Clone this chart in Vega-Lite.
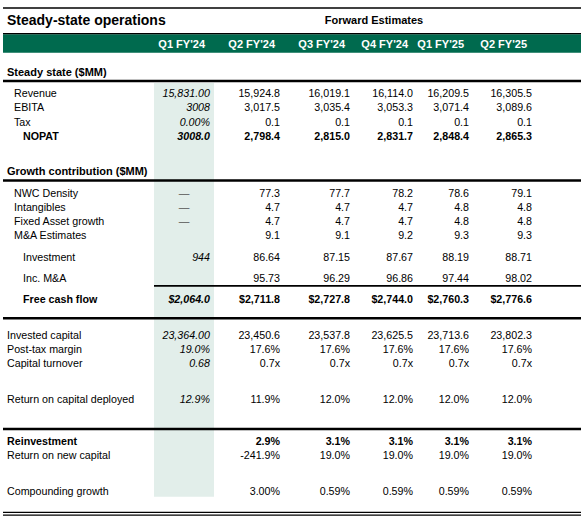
{
  "$schema": "https://vega.github.io/schema/vega-lite/v6.json",
  "width": 581,
  "height": 520,
  "padding": 0,
  "autosize": "none",
  "background": "white",
  "config": {"view": {"stroke": null}, "text": {"font": "Liberation Sans", "fontSize": 10.7, "color": "#000000", "baseline": "middle", "dy": 1}},
  "datasets": {
    "titles": [
      {"text": "Steady-state operations", "role": "title"},
      {"text": "Forward Estimates", "role": "group"}
    ],
    "columns": [
      {"col": "Q1 FY'24", "period": "actual"},
      {"col": "Q2 FY'24", "period": "estimate"},
      {"col": "Q3 FY'24", "period": "estimate"},
      {"col": "Q4 FY'24", "period": "estimate"},
      {"col": "Q1 FY'25", "period": "estimate"},
      {"col": "Q2 FY'25", "period": "estimate"}
    ],
    "rules": [
      {"line": "top", "at": "top"},
      {"line": "header", "at": "header"},
      {"line": "section", "at": "rule:steady"},
      {"line": "section", "at": "rule:growth"},
      {"line": "subtotal", "at": "rule:subtotal"},
      {"line": "total", "at": "rule:fcf"},
      {"line": "section", "at": "rule:reinvest"},
      {"line": "bottom", "at": "bottom"}
    ],
    "rows": [
      {"row": "Steady state ($MM)", "kind": "section"},
      {"row": "Revenue", "kind": "item"},
      {"row": "EBITA", "kind": "item"},
      {"row": "Tax", "kind": "item"},
      {"row": "NOPAT", "kind": "total"},
      {"row": "Growth contribution ($MM)", "kind": "section"},
      {"row": "NWC Density", "kind": "item"},
      {"row": "Intangibles", "kind": "item"},
      {"row": "Fixed Asset growth", "kind": "item"},
      {"row": "M&A Estimates", "kind": "item"},
      {"row": "Investment", "kind": "subtotal"},
      {"row": "Inc. M&A", "kind": "subtotal"},
      {"row": "Free cash flow", "kind": "total"},
      {"row": "Invested capital", "kind": "metric"},
      {"row": "Post-tax margin", "kind": "metric"},
      {"row": "Capital turnover", "kind": "metric"},
      {"row": "Return on capital deployed", "kind": "metric"},
      {"row": "Reinvestment", "kind": "keyMetric"},
      {"row": "Return on new capital", "kind": "metric"},
      {"row": "Compounding growth", "kind": "metric"}
    ],
    "cells": [
      {"row": "Revenue", "col": "Q1 FY'24", "value": "15,831.00"},
      {"row": "Revenue", "col": "Q2 FY'24", "value": "15,924.8"},
      {"row": "Revenue", "col": "Q3 FY'24", "value": "16,019.1"},
      {"row": "Revenue", "col": "Q4 FY'24", "value": "16,114.0"},
      {"row": "Revenue", "col": "Q1 FY'25", "value": "16,209.5"},
      {"row": "Revenue", "col": "Q2 FY'25", "value": "16,305.5"},
      {"row": "EBITA", "col": "Q1 FY'24", "value": "3008"},
      {"row": "EBITA", "col": "Q2 FY'24", "value": "3,017.5"},
      {"row": "EBITA", "col": "Q3 FY'24", "value": "3,035.4"},
      {"row": "EBITA", "col": "Q4 FY'24", "value": "3,053.3"},
      {"row": "EBITA", "col": "Q1 FY'25", "value": "3,071.4"},
      {"row": "EBITA", "col": "Q2 FY'25", "value": "3,089.6"},
      {"row": "Tax", "col": "Q1 FY'24", "value": "0.00%"},
      {"row": "Tax", "col": "Q2 FY'24", "value": "0.1"},
      {"row": "Tax", "col": "Q3 FY'24", "value": "0.1"},
      {"row": "Tax", "col": "Q4 FY'24", "value": "0.1"},
      {"row": "Tax", "col": "Q1 FY'25", "value": "0.1"},
      {"row": "Tax", "col": "Q2 FY'25", "value": "0.1"},
      {"row": "NOPAT", "col": "Q1 FY'24", "value": "3008.0"},
      {"row": "NOPAT", "col": "Q2 FY'24", "value": "2,798.4"},
      {"row": "NOPAT", "col": "Q3 FY'24", "value": "2,815.0"},
      {"row": "NOPAT", "col": "Q4 FY'24", "value": "2,831.7"},
      {"row": "NOPAT", "col": "Q1 FY'25", "value": "2,848.4"},
      {"row": "NOPAT", "col": "Q2 FY'25", "value": "2,865.3"},
      {"row": "NWC Density", "col": "Q1 FY'24", "value": "—"},
      {"row": "NWC Density", "col": "Q2 FY'24", "value": "77.3"},
      {"row": "NWC Density", "col": "Q3 FY'24", "value": "77.7"},
      {"row": "NWC Density", "col": "Q4 FY'24", "value": "78.2"},
      {"row": "NWC Density", "col": "Q1 FY'25", "value": "78.6"},
      {"row": "NWC Density", "col": "Q2 FY'25", "value": "79.1"},
      {"row": "Intangibles", "col": "Q1 FY'24", "value": "—"},
      {"row": "Intangibles", "col": "Q2 FY'24", "value": "4.7"},
      {"row": "Intangibles", "col": "Q3 FY'24", "value": "4.7"},
      {"row": "Intangibles", "col": "Q4 FY'24", "value": "4.7"},
      {"row": "Intangibles", "col": "Q1 FY'25", "value": "4.8"},
      {"row": "Intangibles", "col": "Q2 FY'25", "value": "4.8"},
      {"row": "Fixed Asset growth", "col": "Q1 FY'24", "value": "—"},
      {"row": "Fixed Asset growth", "col": "Q2 FY'24", "value": "4.7"},
      {"row": "Fixed Asset growth", "col": "Q3 FY'24", "value": "4.7"},
      {"row": "Fixed Asset growth", "col": "Q4 FY'24", "value": "4.7"},
      {"row": "Fixed Asset growth", "col": "Q1 FY'25", "value": "4.8"},
      {"row": "Fixed Asset growth", "col": "Q2 FY'25", "value": "4.8"},
      {"row": "M&A Estimates", "col": "Q2 FY'24", "value": "9.1"},
      {"row": "M&A Estimates", "col": "Q3 FY'24", "value": "9.1"},
      {"row": "M&A Estimates", "col": "Q4 FY'24", "value": "9.2"},
      {"row": "M&A Estimates", "col": "Q1 FY'25", "value": "9.3"},
      {"row": "M&A Estimates", "col": "Q2 FY'25", "value": "9.3"},
      {"row": "Investment", "col": "Q1 FY'24", "value": "944"},
      {"row": "Investment", "col": "Q2 FY'24", "value": "86.64"},
      {"row": "Investment", "col": "Q3 FY'24", "value": "87.15"},
      {"row": "Investment", "col": "Q4 FY'24", "value": "87.67"},
      {"row": "Investment", "col": "Q1 FY'25", "value": "88.19"},
      {"row": "Investment", "col": "Q2 FY'25", "value": "88.71"},
      {"row": "Inc. M&A", "col": "Q2 FY'24", "value": "95.73"},
      {"row": "Inc. M&A", "col": "Q3 FY'24", "value": "96.29"},
      {"row": "Inc. M&A", "col": "Q4 FY'24", "value": "96.86"},
      {"row": "Inc. M&A", "col": "Q1 FY'25", "value": "97.44"},
      {"row": "Inc. M&A", "col": "Q2 FY'25", "value": "98.02"},
      {"row": "Free cash flow", "col": "Q1 FY'24", "value": "$2,064.0"},
      {"row": "Free cash flow", "col": "Q2 FY'24", "value": "$2,711.8"},
      {"row": "Free cash flow", "col": "Q3 FY'24", "value": "$2,727.8"},
      {"row": "Free cash flow", "col": "Q4 FY'24", "value": "$2,744.0"},
      {"row": "Free cash flow", "col": "Q1 FY'25", "value": "$2,760.3"},
      {"row": "Free cash flow", "col": "Q2 FY'25", "value": "$2,776.6"},
      {"row": "Invested capital", "col": "Q1 FY'24", "value": "23,364.00"},
      {"row": "Invested capital", "col": "Q2 FY'24", "value": "23,450.6"},
      {"row": "Invested capital", "col": "Q3 FY'24", "value": "23,537.8"},
      {"row": "Invested capital", "col": "Q4 FY'24", "value": "23,625.5"},
      {"row": "Invested capital", "col": "Q1 FY'25", "value": "23,713.6"},
      {"row": "Invested capital", "col": "Q2 FY'25", "value": "23,802.3"},
      {"row": "Post-tax margin", "col": "Q1 FY'24", "value": "19.0%"},
      {"row": "Post-tax margin", "col": "Q2 FY'24", "value": "17.6%"},
      {"row": "Post-tax margin", "col": "Q3 FY'24", "value": "17.6%"},
      {"row": "Post-tax margin", "col": "Q4 FY'24", "value": "17.6%"},
      {"row": "Post-tax margin", "col": "Q1 FY'25", "value": "17.6%"},
      {"row": "Post-tax margin", "col": "Q2 FY'25", "value": "17.6%"},
      {"row": "Capital turnover", "col": "Q1 FY'24", "value": "0.68"},
      {"row": "Capital turnover", "col": "Q2 FY'24", "value": "0.7x"},
      {"row": "Capital turnover", "col": "Q3 FY'24", "value": "0.7x"},
      {"row": "Capital turnover", "col": "Q4 FY'24", "value": "0.7x"},
      {"row": "Capital turnover", "col": "Q1 FY'25", "value": "0.7x"},
      {"row": "Capital turnover", "col": "Q2 FY'25", "value": "0.7x"},
      {"row": "Return on capital deployed", "col": "Q1 FY'24", "value": "12.9%"},
      {"row": "Return on capital deployed", "col": "Q2 FY'24", "value": "11.9%"},
      {"row": "Return on capital deployed", "col": "Q3 FY'24", "value": "12.0%"},
      {"row": "Return on capital deployed", "col": "Q4 FY'24", "value": "12.0%"},
      {"row": "Return on capital deployed", "col": "Q1 FY'25", "value": "12.0%"},
      {"row": "Return on capital deployed", "col": "Q2 FY'25", "value": "12.0%"},
      {"row": "Reinvestment", "col": "Q2 FY'24", "value": "2.9%"},
      {"row": "Reinvestment", "col": "Q3 FY'24", "value": "3.1%"},
      {"row": "Reinvestment", "col": "Q4 FY'24", "value": "3.1%"},
      {"row": "Reinvestment", "col": "Q1 FY'25", "value": "3.1%"},
      {"row": "Reinvestment", "col": "Q2 FY'25", "value": "3.1%"},
      {"row": "Return on new capital", "col": "Q2 FY'24", "value": "-241.9%"},
      {"row": "Return on new capital", "col": "Q3 FY'24", "value": "19.0%"},
      {"row": "Return on new capital", "col": "Q4 FY'24", "value": "19.0%"},
      {"row": "Return on new capital", "col": "Q1 FY'25", "value": "19.0%"},
      {"row": "Return on new capital", "col": "Q2 FY'25", "value": "19.0%"},
      {"row": "Compounding growth", "col": "Q2 FY'24", "value": "3.00%"},
      {"row": "Compounding growth", "col": "Q3 FY'24", "value": "0.59%"},
      {"row": "Compounding growth", "col": "Q4 FY'24", "value": "0.59%"},
      {"row": "Compounding growth", "col": "Q1 FY'25", "value": "0.59%"},
      {"row": "Compounding growth", "col": "Q2 FY'25", "value": "0.59%"}
    ]
  },
  "layer": [
    {
      "data": {"name": "columns"},
      "transform": [{"filter": "datum.period === 'actual'"}],
      "mark": {"type": "rect", "color": "#e2eeea", "xOffset": -56, "x2Offset": 4, "yOffset": 4, "y2Offset": 6},
      "encoding": {
        "x": {"field": "col", "type": "nominal", "axis": null,
          "scale": {"type": "point", "padding": 0, "range": [7, 532],
            "domain": ["label","_x1","_x2","_x3","_x4","_x5","_x6","_x7","_x8","_x9","_x10","_x11","_x12","_x13","_x14","_x15","_x16","_x17","_x18","_x19","_x20","_x21","_x22","_x23","_x24","_x25","_x26","_x27","_x28","Q1 FY'24","_x30","_x31","_x32","_x33","_x34","_x35","_x36","_x37","_x38","Q2 FY'24","_x40","_x41","_x42","_x43","_x44","_x45","_x46","_x47","_x48","Q3 FY'24","_x50","_x51","_x52","_x53","_x54","_x55","_x56","_x57","Q4 FY'24","_x59","_x60","_x61","_x62","_x63","_x64","_x65","Q1 FY'25","_x67","_x68","_x69","_x70","_x71","_x72","_x73","_x74","Q2 FY'25"]}},
        "x2": {"field": "col"},
        "y": {"datum": "rule:steady", "type": "nominal", "axis": null,
          "scale": {"type": "point", "padding": 0, "range": [8, 512.1],
            "domain": ["top","_y1","title","_y3","_y4","header","_y6","_y7","_y8","Steady state ($MM)","rule:steady","_y11","Revenue","_y13","EBITA","_y15","Tax","_y17","NOPAT","_y19","_y20","_y21","_y22","Growth contribution ($MM)","rule:growth","_y25","NWC Density","_y27","Intangibles","_y29","Fixed Asset growth","_y31","M&A Estimates","_y33","_y34","Investment","_y36","_y37","Inc. M&A","rule:subtotal","_y40","Free cash flow","_y42","rule:fcf","_y44","_y45","Invested capital","_y47","Post-tax margin","_y49","Capital turnover","_y51","_y52","_y53","_y54","Return on capital deployed","_y56","_y57","_y58","rule:reinvest","_y60","Reinvestment","_y62","Return on new capital","_y64","_y65","_y66","_y67","Compounding growth","_y69","_y70","bottom"]}},
        "y2": {"datum": "Compounding growth"}
      }
    },
    {
      "data": {"name": "rules"},
      "transform": [{"filter": "datum.line === 'header'"}],
      "mark": {"type": "rect", "color": "#006a4e", "xOffset": -4, "yOffset": -9.2, "y2Offset": 9.3},
      "encoding": {"x": {"datum": "label", "type": "nominal"}, "x2": {"value": "width"}, "y": {"field": "at", "type": "nominal"}, "y2": {"field": "at"}}
    },
    {
      "data": {"name": "rules"},
      "transform": [{"filter": "datum.line === 'header'"}],
      "mark": {"type": "rule", "color": "#000000", "strokeWidth": 1.3, "xOffset": -4, "yOffset": -9.8},
      "encoding": {"x": {"datum": "label", "type": "nominal"}, "x2": {"value": "width"}, "y": {"field": "at", "type": "nominal"}}
    },
    {
      "data": {"name": "rules"},
      "transform": [{"filter": "datum.line === 'top'"}],
      "mark": {"type": "rule", "color": "#000000", "strokeWidth": 1.5, "xOffset": -4},
      "encoding": {"x": {"datum": "label", "type": "nominal"}, "x2": {"value": "width"}, "y": {"field": "at", "type": "nominal"}}
    },
    {
      "data": {"name": "rules"},
      "transform": [{"filter": "datum.line === 'section'"}],
      "mark": {"type": "rule", "color": "#000000", "strokeWidth": 2.5, "xOffset": -4, "yOffset": 2},
      "encoding": {"x": {"datum": "label", "type": "nominal"}, "x2": {"value": "width"}, "y": {"field": "at", "type": "nominal"}}
    },
    {
      "data": {"name": "rules"},
      "transform": [{"filter": "datum.line === 'total'"}],
      "mark": {"type": "rule", "color": "#000000", "strokeWidth": 2.5, "xOffset": -4, "yOffset": 5},
      "encoding": {"x": {"datum": "label", "type": "nominal"}, "x2": {"value": "width"}, "y": {"field": "at", "type": "nominal"}}
    },
    {
      "data": {"name": "rules"},
      "transform": [{"filter": "datum.line === 'subtotal'"}],
      "mark": {"type": "rule", "color": "#000000", "strokeWidth": 1.8, "xOffset": -56, "yOffset": 1},
      "encoding": {"x": {"datum": "Q1 FY'24", "type": "nominal"}, "x2": {"value": "width"}, "y": {"field": "at", "type": "nominal"}}
    },
    {
      "data": {"name": "rules"},
      "transform": [{"filter": "datum.line === 'bottom'"}],
      "mark": {"type": "rule", "color": "#000000", "strokeWidth": 1.3, "xOffset": -4, "yOffset": 0.2},
      "encoding": {"x": {"datum": "label", "type": "nominal"}, "x2": {"value": "width"}, "y": {"field": "at", "type": "nominal"}}
    },
    {
      "data": {"name": "rules"},
      "transform": [{"filter": "datum.line === 'bottom'"}],
      "mark": {"type": "rule", "color": "#000000", "strokeWidth": 1.3, "xOffset": -4, "yOffset": 3},
      "encoding": {"x": {"datum": "label", "type": "nominal"}, "x2": {"value": "width"}, "y": {"field": "at", "type": "nominal"}}
    },
    {
      "data": {"name": "titles"},
      "transform": [{"filter": "datum.role === 'title'"}],
      "mark": {"type": "text", "align": "left", "fontSize": 14, "fontWeight": "bold", "dy": -1},
      "encoding": {"x": {"datum": "label", "type": "nominal"}, "y": {"datum": "title", "type": "nominal"}, "text": {"field": "text"}}
    },
    {
      "data": {"name": "titles"},
      "transform": [{"filter": "datum.role === 'group'"}],
      "mark": {"type": "text", "align": "center", "fontSize": 11, "fontWeight": "bold", "dx": 24, "dy": -1},
      "encoding": {"x": {"datum": "Q3 FY'24", "type": "nominal"}, "y": {"datum": "title", "type": "nominal"}, "text": {"field": "text"}}
    },
    {
      "data": {"name": "columns"},
      "mark": {"type": "text", "align": "right", "fontSize": 11, "fontWeight": "bold", "color": "#ffffff", "dx": -5},
      "encoding": {"x": {"field": "col", "type": "nominal"}, "y": {"datum": "header", "type": "nominal"}, "text": {"field": "col"}}
    },
    {
      "data": {"name": "rows"},
      "transform": [{"filter": "datum.kind === 'section'"}],
      "mark": {"type": "text", "align": "left", "fontSize": 11, "fontWeight": "bold"},
      "encoding": {"x": {"datum": "label", "type": "nominal"}, "y": {"field": "row", "type": "nominal"}, "text": {"field": "row"}}
    },
    {
      "data": {"name": "rows"},
      "transform": [{"filter": "datum.kind === 'metric'"}],
      "mark": {"type": "text", "align": "left"},
      "encoding": {"x": {"datum": "label", "type": "nominal"}, "y": {"field": "row", "type": "nominal"}, "text": {"field": "row"}}
    },
    {
      "data": {"name": "rows"},
      "transform": [{"filter": "datum.kind === 'keyMetric'"}],
      "mark": {"type": "text", "align": "left", "fontWeight": "bold"},
      "encoding": {"x": {"datum": "label", "type": "nominal"}, "y": {"field": "row", "type": "nominal"}, "text": {"field": "row"}}
    },
    {
      "data": {"name": "rows"},
      "transform": [{"filter": "datum.kind === 'item'"}],
      "mark": {"type": "text", "align": "left", "dx": 7},
      "encoding": {"x": {"datum": "label", "type": "nominal"}, "y": {"field": "row", "type": "nominal"}, "text": {"field": "row"}}
    },
    {
      "data": {"name": "rows"},
      "transform": [{"filter": "datum.kind === 'subtotal'"}],
      "mark": {"type": "text", "align": "left", "dx": 16},
      "encoding": {"x": {"datum": "label", "type": "nominal"}, "y": {"field": "row", "type": "nominal"}, "text": {"field": "row"}}
    },
    {
      "data": {"name": "rows"},
      "transform": [{"filter": "datum.kind === 'total'"}],
      "mark": {"type": "text", "align": "left", "dx": 16, "fontWeight": "bold"},
      "encoding": {"x": {"datum": "label", "type": "nominal"}, "y": {"field": "row", "type": "nominal"}, "text": {"field": "row"}}
    },
    {
      "data": {"name": "cells"},
      "transform": [
        {"lookup": "row", "from": {"data": {"name": "rows"}, "key": "row", "fields": ["kind"]}},
        {"lookup": "col", "from": {"data": {"name": "columns"}, "key": "col", "fields": ["period"]}},
        {"filter": "datum.period === 'estimate' && datum.kind !== 'total' && datum.kind !== 'keyMetric'"}
      ],
      "mark": {"type": "text", "align": "right"},
      "encoding": {"x": {"field": "col", "type": "nominal"}, "y": {"field": "row", "type": "nominal"}, "text": {"field": "value"}}
    },
    {
      "data": {"name": "cells"},
      "transform": [
        {"lookup": "row", "from": {"data": {"name": "rows"}, "key": "row", "fields": ["kind"]}},
        {"lookup": "col", "from": {"data": {"name": "columns"}, "key": "col", "fields": ["period"]}},
        {"filter": "datum.period === 'estimate' && (datum.kind === 'total' || datum.kind === 'keyMetric')"}
      ],
      "mark": {"type": "text", "align": "right", "fontWeight": "bold"},
      "encoding": {"x": {"field": "col", "type": "nominal"}, "y": {"field": "row", "type": "nominal"}, "text": {"field": "value"}}
    },
    {
      "data": {"name": "cells"},
      "transform": [
        {"lookup": "row", "from": {"data": {"name": "rows"}, "key": "row", "fields": ["kind"]}},
        {"lookup": "col", "from": {"data": {"name": "columns"}, "key": "col", "fields": ["period"]}},
        {"filter": "datum.period === 'actual' && datum.kind !== 'total' && datum.kind !== 'keyMetric' && datum.value !== '—'"}
      ],
      "mark": {"type": "text", "align": "right", "fontStyle": "italic"},
      "encoding": {"x": {"field": "col", "type": "nominal"}, "y": {"field": "row", "type": "nominal"}, "text": {"field": "value"}}
    },
    {
      "data": {"name": "cells"},
      "transform": [
        {"lookup": "row", "from": {"data": {"name": "rows"}, "key": "row", "fields": ["kind"]}},
        {"lookup": "col", "from": {"data": {"name": "columns"}, "key": "col", "fields": ["period"]}},
        {"filter": "datum.period === 'actual' && (datum.kind === 'total' || datum.kind === 'keyMetric')"}
      ],
      "mark": {"type": "text", "align": "right", "fontStyle": "italic", "fontWeight": "bold"},
      "encoding": {"x": {"field": "col", "type": "nominal"}, "y": {"field": "row", "type": "nominal"}, "text": {"field": "value"}}
    },
    {
      "data": {"name": "cells"},
      "transform": [{"filter": "datum.value === '—'"}],
      "mark": {"type": "text", "align": "center", "dx": -26, "color": "#555555"},
      "encoding": {"x": {"field": "col", "type": "nominal"}, "y": {"field": "row", "type": "nominal"}, "text": {"field": "value"}}
    }
  ]
}
